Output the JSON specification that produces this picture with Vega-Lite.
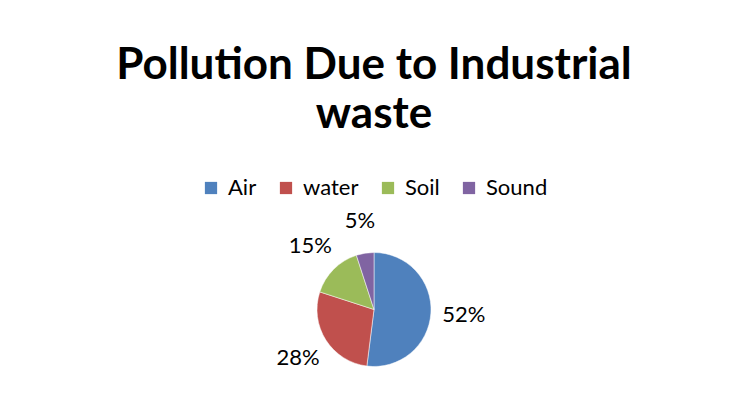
{
  "$schema": "https://vega.github.io/schema/vega-lite/v6.json",
  "width": 732,
  "height": 404,
  "autosize": {"type": "fit", "contains": "padding"},
  "padding": {"left": 16, "right": 0, "top": 44, "bottom": 0},
  "background": "white",
  "title": {
    "text": ["Pollution Due to Industrial", "waste"],
    "font": "Lato",
    "fontSize": 44,
    "fontWeight": "bold",
    "color": "black",
    "anchor": "middle",
    "lineHeight": 49,
    "offset": 40
  },
  "data": {
    "values": [
      {"pollution": "Air", "share": 0.52},
      {"pollution": "water", "share": 0.28},
      {"pollution": "Soil", "share": 0.15},
      {"pollution": "Sound", "share": 0.05}
    ]
  },
  "encoding": {
    "theta": {"field": "share", "type": "quantitative", "stack": true},
    "order": {"field": "share", "type": "quantitative", "sort": "descending"}
  },
  "layer": [
    {
      "mark": {"type": "arc", "outerRadius": 57, "stroke": "white", "strokeWidth": 0.5},
      "encoding": {
        "color": {
          "field": "pollution",
          "type": "nominal",
          "scale": {
            "domain": ["Air", "water", "Soil", "Sound"],
            "range": ["#4F81BD", "#C0504D", "#9BBB59", "#8064A2"]
          },
          "legend": {
            "orient": "top",
            "direction": "horizontal",
            "title": null,
            "symbolType": "square",
            "symbolSize": 150,
            "symbolStrokeWidth": 0,
            "labelFont": "Lato",
            "labelFontSize": 22,
            "labelColor": "black",
            "labelOffset": 6,
            "columnPadding": 18,
            "offset": 16
          }
        }
      }
    },
    {
      "mark": {"type": "text", "radius": 90, "font": "Lato", "fontSize": 22, "color": "black"},
      "encoding": {
        "text": {"field": "share", "type": "quantitative", "format": ".0%"}
      }
    }
  ],
  "config": {
    "view": {"stroke": null},
    "legend": {"layout": {"top": {"anchor": "middle"}}}
  }
}
